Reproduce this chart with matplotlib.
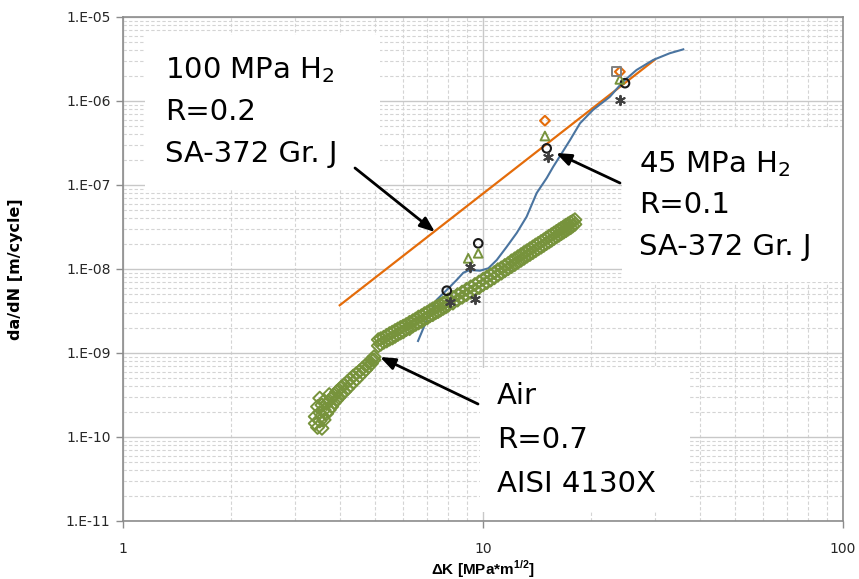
import numpy as np
import matplotlib
matplotlib.use("Agg")
import matplotlib.pyplot as plt
from matplotlib.patches import Rectangle
from matplotlib.ticker import FuncFormatter, LogLocator, NullFormatter

plt.rcParams['font.family'] = ['Liberation Sans', 'DejaVu Sans']
plt.rcParams['mathtext.fontset'] = 'custom'
plt.rcParams['mathtext.rm'] = 'DejaVu Sans'
plt.rcParams['mathtext.it'] = 'DejaVu Sans:italic'
plt.rcParams['mathtext.bf'] = 'Liberation Sans:bold'

# ---------------- data ----------------
# 100 MPa H2, R=0.2 (power-law line)
h100_dk = [4.0, 30.0]
h100_dadn = [3.7e-9, 3.1e-6]

# 45 MPa H2, R=0.1 (measured curve)
h45_dk = [6.60, 6.98, 7.43, 7.93, 8.45, 8.82, 9.20, 9.81, 10.35, 10.92, 11.64,
          12.41, 13.22, 14.10, 15.03, 15.67, 16.54, 17.45, 18.6, 20.2, 22.5,
          24.5, 26.7, 29.7, 33.0, 36.0]
h45_dadn = [1.39e-9, 2.47e-9, 4.28e-9, 5.62e-9, 7.40e-9, 9.04e-9, 9.72e-9,
            9.54e-9, 1.02e-8, 1.28e-8, 1.84e-8, 2.69e-8, 4.20e-8, 8.04e-8,
            1.21e-7, 1.65e-7, 2.38e-7, 3.43e-7, 5.43e-7, 7.82e-7, 1.12e-6,
            1.70e-6, 2.34e-6, 3.08e-6, 3.70e-6, 4.12e-6]

# 45 MPa H2 discrete specimens
circ_dk = [7.93, 9.70, 15.03, 24.8]
circ_dadn = [5.52e-9, 2.02e-8, 2.73e-7, 1.63e-6]
tri_dk = [9.10, 9.70, 14.86, 24.0]
tri_dadn = [1.34e-8, 1.54e-8, 3.83e-7, 1.81e-6]
dia_dk = [14.86, 24.0]
dia_dadn = [5.83e-7, 2.23e-6]
sq_dk = [23.5]
sq_dadn = [2.23e-6]
star_dk = [8.10, 9.20, 9.50, 15.2, 24.0]
star_dadn = [4.08e-9, 1.06e-8, 4.39e-9, 2.17e-7, 1.03e-6]

# Air, R=0.7, AISI 4130X
air_dk = [3.42, 3.42, 3.47, 3.47, 3.52, 3.52, 3.52, 3.57, 3.57, 3.57,
          3.62, 3.62, 3.62, 3.68, 3.68, 3.74, 3.74, 3.74, 3.80, 3.80,
          3.86, 3.86, 3.92, 3.92, 3.98, 3.98, 4.05, 4.05, 4.12, 4.12,
          4.20, 4.20, 4.28, 4.28, 4.36, 4.36, 4.45, 4.45, 4.54, 4.54,
          4.63, 4.63, 4.72, 4.72, 4.81, 4.81, 4.90, 4.90, 4.98, 4.98,
          5.12, 5.12, 5.20, 5.20, 5.30, 5.30, 5.40, 5.40, 5.50, 5.50,
          5.60, 5.60, 5.70, 5.70, 5.80, 5.80, 5.90, 5.90, 6.00, 6.00,
          6.12, 6.12, 6.25, 6.25, 6.38, 6.38, 6.50, 6.50, 6.62, 6.62,
          6.75, 6.75, 6.88, 6.88, 7.00, 7.00, 7.12, 7.12, 7.25, 7.25,
          7.38, 7.38, 7.50, 7.50, 7.62, 7.62, 7.75, 7.75, 7.88, 7.88,
          8.00, 8.00, 8.25, 8.25, 8.50, 8.50, 8.75, 8.75, 9.00, 9.00,
          9.25, 9.25, 9.50, 9.50, 9.75, 9.75, 10.0, 10.0, 10.25, 10.25,
          10.5, 10.5, 10.75, 10.75, 11.0, 11.0, 11.25, 11.25, 11.5, 11.5,
          11.75, 11.75, 12.0, 12.0, 12.25, 12.25, 12.5, 12.5, 12.75, 12.75,
          13.0, 13.0, 13.25, 13.25, 13.5, 13.5, 13.75, 13.75, 14.0, 14.0,
          14.25, 14.25, 14.5, 14.5, 14.75, 14.75, 15.0, 15.0, 15.25, 15.25,
          15.5, 15.5, 15.75, 15.75, 16.0, 16.0, 16.25, 16.25, 16.5, 16.5,
          16.75, 16.75, 17.0, 17.0, 17.25, 17.25, 17.5, 17.5, 17.75, 17.75,
          18.0, 18.0]
air_dadn = [1.45e-10, 1.75e-10, 1.30e-10, 2.30e-10, 1.55e-10, 1.95e-10, 2.90e-10, 1.27e-10, 1.80e-10, 2.40e-10,
            1.60e-10, 2.10e-10, 2.70e-10, 1.90e-10, 2.50e-10, 2.10e-10, 2.70e-10, 3.20e-10, 2.30e-10, 2.90e-10,
            2.55e-10, 3.15e-10, 2.75e-10, 3.45e-10, 2.95e-10, 3.65e-10, 3.25e-10, 3.95e-10, 3.45e-10, 4.20e-10,
            3.75e-10, 4.55e-10, 4.10e-10, 4.90e-10, 4.45e-10, 5.30e-10, 4.85e-10, 5.70e-10, 5.30e-10, 6.10e-10,
            5.80e-10, 6.60e-10, 6.30e-10, 7.10e-10, 6.90e-10, 7.70e-10, 7.50e-10, 8.30e-10, 8.30e-10, 9.00e-10,
            1.22e-9, 1.44e-9, 1.27e-9, 1.48e-9, 1.34e-9, 1.54e-9, 1.39e-9, 1.62e-9, 1.46e-9, 1.70e-9,
            1.51e-9, 1.77e-9, 1.58e-9, 1.85e-9, 1.66e-9, 1.93e-9, 1.73e-9, 2.01e-9, 1.78e-9, 2.08e-9,
            1.90e-9, 2.18e-9, 1.95e-9, 2.31e-9, 2.09e-9, 2.42e-9, 2.19e-9, 2.53e-9, 2.28e-9, 2.68e-9,
            2.38e-9, 2.78e-9, 2.53e-9, 2.94e-9, 2.62e-9, 3.04e-9, 2.77e-9, 3.20e-9, 2.86e-9, 3.35e-9,
            3.01e-9, 3.50e-9, 3.11e-9, 3.61e-9, 3.25e-9, 3.76e-9, 3.40e-9, 3.92e-9, 3.54e-9, 4.07e-9,
            3.69e-9, 4.28e-9, 3.93e-9, 4.59e-9, 4.27e-9, 4.95e-9, 4.61e-9, 5.31e-9, 4.95e-9, 5.72e-9,
            5.29e-9, 6.13e-9, 5.67e-9, 6.54e-9, 6.01e-9, 7.01e-9, 6.50e-9, 7.52e-9, 6.89e-9, 8.03e-9,
            7.37e-9, 8.55e-9, 7.86e-9, 9.06e-9, 8.44e-9, 9.79e-9, 8.92e-9, 1.03e-8, 9.51e-9, 1.10e-8,
            1.01e-8, 1.16e-8, 1.07e-8, 1.25e-8, 1.13e-8, 1.32e-8, 1.20e-8, 1.40e-8, 1.27e-8, 1.48e-8,
            1.34e-8, 1.57e-8, 1.42e-8, 1.65e-8, 1.49e-8, 1.74e-8, 1.57e-8, 1.83e-8, 1.65e-8, 1.93e-8,
            1.74e-8, 2.02e-8, 1.82e-8, 2.12e-8, 1.91e-8, 2.22e-8, 2.01e-8, 2.34e-8, 2.10e-8, 2.45e-8,
            2.20e-8, 2.56e-8, 2.31e-8, 2.68e-8, 2.42e-8, 2.80e-8, 2.52e-8, 2.93e-8, 2.64e-8, 3.05e-8,
            2.75e-8, 3.18e-8, 2.86e-8, 3.32e-8, 2.99e-8, 3.45e-8, 3.10e-8, 3.58e-8, 3.25e-8, 3.71e-8,
            3.40e-8, 3.86e-8]

y_ticks = [1e-11, 1e-10, 1e-9, 1e-8, 1e-7, 1e-6, 1e-5]
x_ticks = [1, 10, 100]

# ---------------- figure ----------------
W, H = 859, 579
fig = plt.figure(figsize=(W / 100, H / 100), dpi=100)
L, R, T, B = 123, 843, 17, 521
ax = fig.add_axes([L / W, 1 - B / H, (R - L) / W, (B - T) / H])

ax.set_xscale('log')
ax.set_yscale('log')
ax.set_xlim(1, 100)
ax.set_ylim(1e-11, 1e-5)

ax.xaxis.set_minor_locator(LogLocator(base=10, subs=np.arange(2, 10), numticks=20))
ax.yaxis.set_minor_locator(LogLocator(base=10, subs=np.arange(2, 10), numticks=40))
ax.set_xticks(x_ticks)
ax.set_yticks(y_ticks)
ax.xaxis.set_major_formatter(FuncFormatter(lambda v, p: f"{v:g}"))
ax.yaxis.set_major_formatter(FuncFormatter(lambda v, p: "1.E" + format(int(round(np.log10(v))), '03d')))
ax.xaxis.set_minor_formatter(NullFormatter())
ax.yaxis.set_minor_formatter(NullFormatter())

ax.grid(which='major', color='#c8c8c8', lw=1.0, ls='-')
ax.grid(which='minor', color='#d4d4d4', lw=0.8, ls=(0, (3, 2)))
ax.set_axisbelow(True)

for s in ax.spines.values():
    s.set_color('#8c8c8c')
    s.set_linewidth(1.2)
ax.tick_params(which='major', length=5, width=1, color='#8c8c8c', labelsize=10,
               labelcolor='#262626', pad=4)
for lab in ax.get_xticklabels() + ax.get_yticklabels():
    lab.set_family('DejaVu Sans')
ax.tick_params(which='minor', length=0)
ax.tick_params(axis='x', pad=10)

# white annotation boxes
def box(x0, y0, x1, y1):
    ax.add_patch(Rectangle(((x0 - L) / (R - L), (B - y1) / (B - T)),
                           (x1 - x0) / (R - L), (y1 - y0) / (B - T),
                           transform=ax.transAxes, facecolor='white',
                           edgecolor='none', zorder=1.5, clip_on=False))

box(145, 35, 380, 190)
box(622, 128, 846, 282)
box(480, 368, 690, 512)

# data
ax.plot(h100_dk, h100_dadn, color='#e46c0a', lw=1.6, zorder=3)
ax.plot(h45_dk, h45_dadn, color='#4a74a0', lw=1.5, zorder=3)
ax.scatter(air_dk, air_dadn, marker='D', s=44, facecolors='none',
           edgecolors='#77933c', linewidths=1.4, zorder=4)
ax.scatter(circ_dk, circ_dadn, marker='o', s=38, facecolors='none',
           edgecolors='#1a1a1a', linewidths=1.5, zorder=5)
ax.scatter(tri_dk, tri_dadn, marker='^', s=40, facecolors='none',
           edgecolors='#77933c', linewidths=1.4, zorder=5)
ax.scatter(dia_dk, dia_dadn, marker='D', s=25, facecolors='none',
           edgecolors='#e46c0a', linewidths=1.5, zorder=5)
ax.scatter(sq_dk, sq_dadn, marker='s', s=40, facecolors='none',
           edgecolors='#7f7f7f', linewidths=1.4, zorder=5)
ax.scatter(star_dk, star_dadn, marker=(6, 2, 0), s=45, color='#404040',
           linewidths=1.4, zorder=5)

# axis labels
ax.set_xlabel(r"ΔK [MPa*m$^{\mathbf{1/2}}$]", fontsize=11, fontweight='bold',
              labelpad=2)
ax.set_ylabel("da/dN [m/cycle]", fontsize=11.5, fontweight='bold', labelpad=31,
              family='DejaVu Sans')

# annotation texts (figure pixel positions)
def ftext(x, y, s):
    fig.text(x / W, 1 - y / H, s, fontsize=21, va='baseline', ha='left',
             color='black', family='DejaVu Sans')

ftext(165, 78, r"100 MPa H$_2$")
ftext(165, 120, "R=0.2")
ftext(165, 162, "SA-372 Gr. J")
ftext(639, 172, r"45 MPa H$_2$")
ftext(639, 213, "R=0.1")
ftext(639, 255, "SA-372 Gr. J")
ftext(497, 404, "Air")
ftext(497, 448, "R=0.7")
ftext(497, 492, "AISI 4130X")

arrowprops = dict(arrowstyle='-|>,head_length=0.9,head_width=0.35', color='black',
                  lw=2.0, shrinkA=0, shrinkB=0)
def arrow(x0, y0, x1, y1):
    ax.annotate("", xy=(x1 / W, 1 - y1 / H), xycoords='figure fraction',
                xytext=(x0 / W, 1 - y0 / H), textcoords='figure fraction',
                arrowprops=arrowprops, zorder=6)

arrow(355, 168, 435, 232)
arrow(620, 183, 556, 153)
arrow(478, 404, 380, 357)

fig.savefig("out.png", dpi=100)
